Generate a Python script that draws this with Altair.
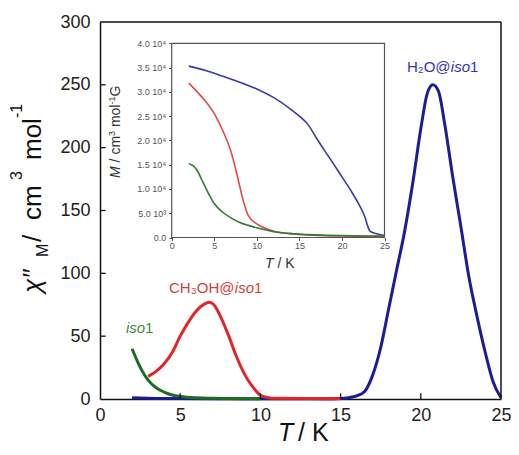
import altair as alt
import pandas as pd

# ---------------- main panel: chi'' vs T ----------------
blue_T = [2.0, 3.0, 5.0, 10.0, 14.0, 15.0, 15.5, 16.0, 16.5, 17.0, 17.5, 18.0, 18.5, 19.0, 19.5, 20.0,
          20.4, 20.75, 21.1, 21.5, 22.0, 22.5, 23.0, 23.5, 24.0, 24.5, 25.0]
blue_chi = [1.0, 0.6, 0.3, 0.2, 0.2, 0.3, 1.0, 2.5, 6.0, 19.0, 41.0, 72.0, 103.0, 134.0, 172.0, 215.0,
            243.0, 250.0, 245.0, 218.0, 176.0, 137.0, 97.0, 66.0, 38.0, 14.0, 1.0]

red_T = [3.0, 3.5, 4.0, 4.5, 5.0, 5.5, 6.0, 6.5, 6.8, 7.1, 7.5, 8.0, 8.5, 9.0, 9.5, 10.0, 10.5, 11.0, 13.0, 15.0]
red_chi = [18.0, 22.0, 28.0, 37.0, 50.0, 61.0, 70.0, 75.5, 77.0, 75.0, 66.0, 51.0, 34.0, 20.0, 10.0, 3.0, 1.0, 0.5, 0.3, 0.2]

green_T = [2.0, 2.3, 2.6, 3.0, 3.5, 4.0, 4.5, 5.0, 6.0, 7.0, 8.0, 10.0]
green_chi = [40.0, 31.0, 23.0, 15.0, 9.0, 5.5, 3.2, 2.0, 0.9, 0.5, 0.3, 0.2]

x_ticks = [0, 5, 10, 15, 20, 25]
y_ticks = [0, 50, 100, 150, 200, 250, 300]

# ---------------- inset: M vs T ----------------
ins_blue_T = [2, 4, 6, 8, 10, 12, 14, 15, 16, 17, 18, 19, 20, 21, 22, 22.7, 23, 23.3, 24, 25]
ins_blue_M = [35300, 34400, 33200, 32000, 30600, 28800, 26400, 25000, 23300, 20500, 17800, 15200,
              12500, 9800, 6800, 4200, 2500, 1300, 800, 400]

ins_red_T = [2, 3, 4, 5, 6, 7, 7.5, 8, 8.5, 9, 10, 11, 12, 14, 16, 20, 25]
ins_red_M = [31800, 30000, 28000, 25500, 22000, 17500, 14200, 10500, 7000, 4500, 2800, 1900, 1300,
             800, 500, 300, 200]

ins_green_T = [2, 2.5, 3, 3.5, 4, 4.5, 5, 6, 7, 8, 9, 10, 12, 14, 16, 20, 25]
ins_green_M = [15200, 14800, 13800, 12000, 10200, 8500, 7000, 5200, 4000, 3100, 2500, 2000, 1200,
               800, 600, 400, 300]

inset_x_ticks = [0, 5, 10, 15, 20, 25]
inset_y_ticks = [0, 5000, 10000, 15000, 20000, 25000, 30000, 35000, 40000]

# series labels
label_prefix = ["H\u2082O@", "CH\u2083OH@", ""]
label_T = [23.07, 9.6, 2.81]
label_val = [260.0, 84.4, 52.5]

line_colors = ["#1c1c98", "#e0262b", "#1e6b22"]
label_colors = ["#3434b4", "#d83c3c", "#3d8b3d"]
inset_colors = ["#3a3aa8", "#e04a4a", "#2f7a37"]
INK = "#111111"

FONT = "Liberation Sans"
W, H = 401, 377

def main_x(axis=None):
    return dict(scale=alt.Scale(domain=[0, 25], range=[0, W]), axis=axis)

def main_y(axis=None):
    return dict(scale=alt.Scale(domain=[0, 300], range=[H, 0]), axis=axis)

x_axis = alt.Axis(values=x_ticks, title=None, grid=False, ticks=False,
                  labelFontSize=18, labelColor="#222", labelPadding=7, labelFlush=False,
                  labelOverlap=False, domain=True, domainColor=INK, domainWidth=1.5, labelFont=FONT,
                  orient="bottom")
y_axis = alt.Axis(values=y_ticks, title=None, grid=False, ticks=False,
                  labelFontSize=18, labelColor="#222", labelPadding=10, labelFlush=False,
                  labelOverlap=False, domain=True, domainColor=INK, domainWidth=1.5, labelFont=FONT,
                  orient="left")

def series(T, v, name, col, sw):
    return pd.DataFrame({"T": T, "val": v, "s": name, "col": col, "sw": sw, "k": list(range(len(T)))})

# data curves (smooth)
curve_df = pd.concat([
    series(blue_T, blue_chi, "a_blue", line_colors[0], 3.0),
    series(red_T, red_chi, "b_red", line_colors[1], 3.0),
    series(green_T, green_chi, "c_green", line_colors[2], 3.0),
], ignore_index=True)

# frame top/right edges and inward ticks, each a 2-point segment in data units
seg_parts = [series([0.0, 25.0], [300.0, 300.0], "f_top", INK, 1.5),
             series([25.0, 25.0], [300.0, 0.0], "f_right", INK, 1.5)]
for t in x_ticks[1:-1]:
    seg_parts.append(series([t, t], [0.0, 4.5], f"tx{t}", INK, 1.3))
for v in y_ticks[1:-1]:
    seg_parts.append(series([0.0, 0.35], [v, v], f"ty{v}", INK, 1.3))
seg_df = pd.concat(seg_parts, ignore_index=True)

all_df = pd.concat([curve_df, seg_df], ignore_index=True)

lines = alt.Chart(all_df).mark_line(interpolate="monotone").encode(
    x=alt.X("T:Q", **main_x(x_axis)),
    y=alt.Y("val:Q", **main_y(y_axis)),
    detail="s:N",
    order="k:Q",
    color=alt.Color("col:N", scale=None),
    strokeWidth=alt.StrokeWidth("sw:Q", scale=None),
)

lab_df = pd.DataFrame({"T": label_T, "val": label_val, "prefix": label_prefix, "col": label_colors})

def lab_layer(text, align, dx=0, style="normal"):
    return alt.Chart(lab_df).mark_text(align=align, baseline="alphabetic", dx=dx, fontSize=15,
                                       font=FONT, fontStyle=style).encode(
        x=alt.X("T:Q", **main_x()), y=alt.Y("val:Q", **main_y()),
        color=alt.Color("col:N", scale=None), text=text)

lab_prefix = lab_layer("prefix:N", "right", dx=-19.5)
lab_iso = lab_layer(alt.value("iso"), "right", style="italic")
lab_one = lab_layer(alt.value("1"), "left")

# ---------------- inset ----------------
INS_L, INS_R, INS_T, INS_B = 71.7, 284.5, 21.3, 215.5
ins_x = alt.Scale(domain=[0, 25], range=[INS_L, INS_R])
ins_y = alt.Scale(domain=[0, 40000], range=[INS_B, INS_T])

ins_x_axis = alt.Axis(values=inset_x_ticks, orient="bottom", offset=-(H - INS_B), title=None, grid=False,
                      labelFontSize=9, labelColor="#555", labelPadding=1, tickSize=3, tickColor="#555",
                      domain=False, labelFlush=False, labelOverlap=False, labelFont=FONT)
ins_y_axis = alt.Axis(values=inset_y_ticks, orient="left", offset=-INS_L, title=None, grid=False,
                      labelFontSize=9, labelColor="#555", labelPadding=3, tickSize=3, tickColor="#555",
                      domain=False, labelFlush=False, labelOverlap=False, labelFont=FONT,
                      labelExpr="datum.value == 0 ? '0.0' : (datum.value < 10000 ? format(datum.value/1000, '.1f') + ' 10\u00b3' : format(datum.value/10000, '.1f') + ' 10\u2074')")

ins_frame = alt.Chart(pd.DataFrame({"x0": [0.0], "x1": [25.0], "y0": [0.0], "y1": [40000.0]})).mark_rect(
    fill="white", stroke="#555", strokeWidth=1.2).encode(
    x=alt.X("x0:Q", scale=ins_x, axis=ins_x_axis), x2="x1:Q",
    y=alt.Y("y0:Q", scale=ins_y, axis=ins_y_axis), y2="y1:Q")

ins_df = pd.concat([
    pd.DataFrame({"T": ins_blue_T, "M": ins_blue_M, "s": "a_blue", "col": inset_colors[0]}),
    pd.DataFrame({"T": ins_red_T, "M": ins_red_M, "s": "b_red", "col": inset_colors[1]}),
    pd.DataFrame({"T": ins_green_T, "M": ins_green_M, "s": "c_green", "col": inset_colors[2]}),
], ignore_index=True)
ins_lines = alt.Chart(ins_df).mark_line(strokeWidth=1.6, interpolate="monotone").encode(
    x=alt.X("T:Q", scale=ins_x, axis=None), y=alt.Y("M:Q", scale=ins_y, axis=None),
    detail="s:N", color=alt.Color("col:N", scale=None))

# ---------------- axis titles (rich text pieces) ----------------
normal_pieces = pd.DataFrame({
    "text": ["M", "/", "cm", "3", "mol", "-1", "/ K",
             "/ cm", "3", "mol", "-1", "G", "/ K"],
    "px": [-52, -59, -59, -78, -59, -78, 198,
           20, 15, 20, 15, 20, 177.5],
    "py": [235, 220, 198, 158, 138, 96, 419,
           140.4, 114.0, 105.1, 82.6, 74.6, 246],
    "fs": [16, 26, 26, 16, 26, 16, 25,
           14, 9, 14, 9, 14, 14],
    "ang": [270, 270, 270, 270, 270, 270, 0,
            270, 270, 270, 270, 270, 0],
    "col": ["#111111"] * 7 + ["#333333"] * 6,
})
italic_pieces = pd.DataFrame({
    "text": ["\u03c7\u2033", "T", "M", "T"],
    "px": [-59, 178, 20, 165],
    "py": [271, 419, 156, 246],
    "fs": [26, 25, 14, 14],
    "ang": [270, 0, 270, 0],
    "col": ["#111111", "#111111", "#333333", "#333333"],
})

def piece_layer(df, style):
    return alt.Chart(df).mark_text(align="left", baseline="alphabetic", font=FONT, fontStyle=style).encode(
        x=alt.X("px:Q", scale=None, axis=None),
        y=alt.Y("py:Q", scale=None, axis=None),
        size=alt.Size("fs:Q", scale=None, legend=None),
        angle=alt.Angle("ang:Q", scale=None),
        color=alt.Color("col:N", scale=None),
        text="text:N",
    )

chart = alt.layer(
    lines,
    lab_prefix, lab_iso, lab_one,
    ins_frame, ins_lines,
    piece_layer(normal_pieces, "normal"), piece_layer(italic_pieces, "italic"),
).resolve_scale(
    x="independent", y="independent"
).properties(
    width=W, height=H,
    autosize=alt.AutoSizeParams(type="none"),
    padding={"left": 92, "top": 14, "right": 10, "bottom": 48},
).configure(
    font=FONT, background="white"
).configure_view(stroke="transparent")

chart.save("out.html", embed_options={"renderer": "svg", "actions": False})
